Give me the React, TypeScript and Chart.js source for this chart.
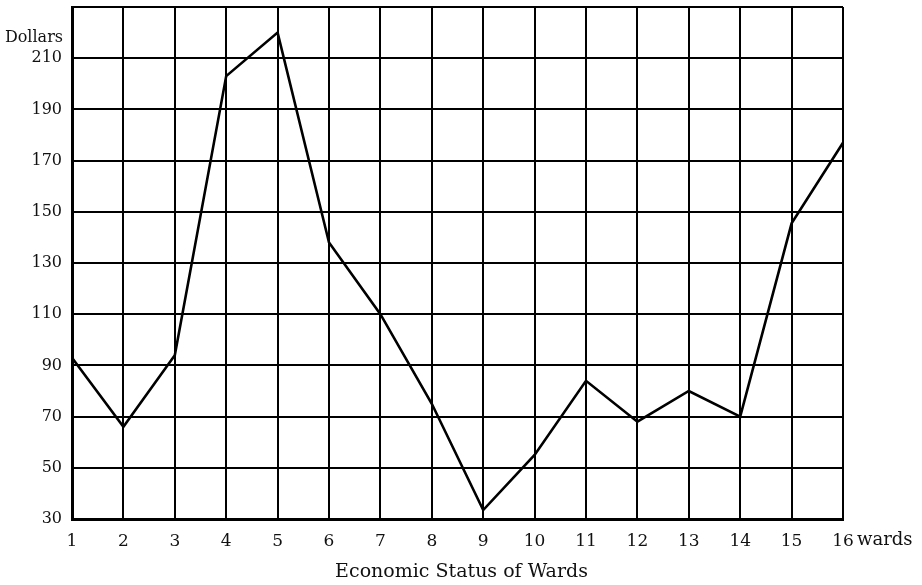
import React, { useEffect, useRef } from "react";
import { Chart, registerables } from "chart.js";

Chart.register(...registerables);

const wards = ["1", "2", "3", "4", "5", "6", "7", "8", "9", "10", "11", "12", "13", "14", "15", "16"];
const dollars = [93, 66, 94, 203, 220, 138, 110, 75, 33.5, 55, 84, 68, 80, 70, 145.5, 177];
const yTicks = [30, 50, 70, 90, 110, 130, 150, 170, 190, 210, 230];
const yLabelText = "Dollars";
const xUnitText = "wards";
const xTitle = "Economic Status of Wards";

const FONT = "'DejaVu Serif', 'Liberation Serif', serif";

const extraText = {
  id: "extraText",
  afterDraw(chart: any) {
    const ctx = chart.ctx;
    const x = chart.scales.x;
    const y = chart.scales.y;
    ctx.save();
    ctx.fillStyle = "#111";
    ctx.font = `16px ${FONT}`;
    ctx.textAlign = "right";
    ctx.textBaseline = "middle";
    ctx.fillText(yLabelText, x.left - 9, y.getPixelForValue(210) - 20);
    const px16 = x.getPixelForValue(15);
    ctx.textAlign = "left";
    ctx.font = `18px ${FONT}`;
    ctx.fillText(xUnitText, px16 + 14, x.top + 21);
    ctx.textAlign = "center";
    ctx.font = `19px ${FONT}`;
    ctx.fillText(xTitle, (x.left + x.right) / 2 + 4, 572);
    ctx.restore();
  },
};

export default function App() {
  const ref = useRef<HTMLCanvasElement | null>(null);
  useEffect(() => {
    document.body.style.margin = "0";
    const canvas = ref.current!;
    const chart = new Chart(canvas, {
      type: "line",
      data: {
        labels: wards,
        datasets: [
          {
            data: dollars,
            borderColor: "#000",
            borderWidth: 2.6,
            pointRadius: 0,
            tension: 0,
            fill: false,
          },
        ],
      },
      options: {
        responsive: false,
        animation: false,
        layout: { padding: { top: 7, right: 79, left: 0, bottom: 0 } },
        plugins: { legend: { display: false }, tooltip: { enabled: false } },
        scales: {
          x: {
            type: "category",
            offset: false,
            grid: { color: "#000", lineWidth: 2, drawTicks: false },
            border: { color: "#000", width: 3 },
            ticks: {
              color: "#111",
              font: { family: FONT, size: 17 },
              padding: 12,
              maxRotation: 0,
              autoSkip: false,
            },
            afterFit(scale: any) {
              scale.height = 66;
              scale.paddingLeft = 0;
              scale.paddingRight = 0;
            },
          },
          y: {
            type: "linear",
            min: 30,
            max: 230,
            afterBuildTicks(scale: any) {
              scale.ticks = yTicks.map((v) => ({ value: v }));
            },
            grid: { color: "#000", lineWidth: 2, drawTicks: false },
            border: { color: "#000", width: 3 },
            ticks: {
              color: "#111",
              font: { family: FONT, size: 16 },
              padding: 10,
              callback: (v: any) => (v === 230 ? "" : String(v)),
            },
            afterFit(scale: any) {
              scale.width = 72;
              scale.paddingTop = 0;
              scale.paddingBottom = 0;
            },
          },
        },
      },
      plugins: [extraText],
    });
    return () => chart.destroy();
  }, []);
  return <canvas ref={ref} width={922} height={585} style={{ display: "block" }} />;
}
